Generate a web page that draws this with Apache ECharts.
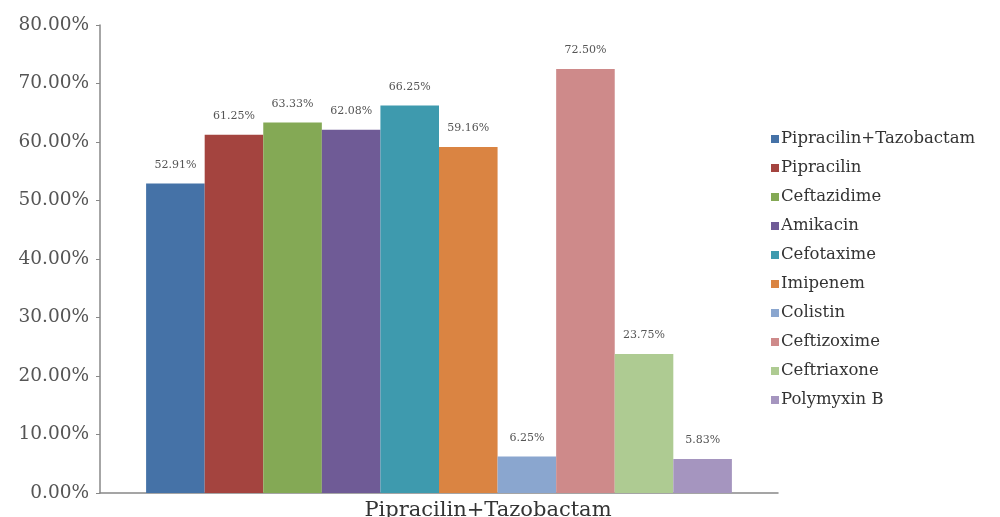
<!DOCTYPE html>
<html><head><meta charset="utf-8">
<script src="https://cdn.jsdelivr.net/npm/echarts@6/dist/echarts.min.js"></script>
<style>html,body{margin:0;padding:0;background:#fff}#c{width:1000px;height:517px}</style>
</head><body><div id="c"></div>
<script>
const categories = ['Pipracilin+Tazobactam'];
const seriesNames = ['Pipracilin+Tazobactam','Pipracilin','Ceftazidime','Amikacin','Cefotaxime','Imipenem','Colistin','Ceftizoxime','Ceftriaxone','Polymyxin B'];
const values = [52.91, 61.25, 63.33, 62.08, 66.25, 59.16, 6.25, 72.50, 23.75, 5.83];
const colors = ['#4572A7','#A4443F','#84A955','#6F5B96','#3E9AAE','#DA8442','#8AA6CF','#CE8A8A','#AECB92','#A595BF'];
const yTicks = [0,10,20,30,40,50,60,70,80];

const font = 'DejaVu Serif, Liberation Serif, serif';
const chart = echarts.init(document.getElementById('c'));
chart.setOption({
  animation: false,
  grid: {left: 100, right: 222, top: 25, bottom: 24, outerBoundsMode: 'none', containLabel: false},
  legend: {
    orient: 'vertical', left: 766, top: 125, itemGap: 11,
    itemWidth: 8, itemHeight: 8, icon: 'rect',
    textStyle: {fontFamily: font, fontSize: 16.5, color: '#333', padding: [0,0,0,-3], lineHeight: 18},
    data: seriesNames
  },
  xAxis: {
    type: 'category', data: categories,
    axisLine: {lineStyle: {color: '#888', width: 1.5}},
    axisTick: {show: false},
    axisLabel: {fontFamily: font, fontSize: 21, color: '#333', margin: 7, padding: [0,0,0,98]}
  },
  yAxis: {
    type: 'value', min: yTicks[0], max: yTicks[yTicks.length-1], interval: 10,
    splitLine: {show: false},
    axisLine: {show: true, lineStyle: {color: '#888', width: 1.5}},
    axisTick: {show: true, length: 4, lineStyle: {color: '#888'}},
    axisLabel: {fontFamily: font, fontSize: 18.5, color: '#555', margin: 11,
      formatter: v => v.toFixed(2) + '%'}
  },
  series: seriesNames.map((n, i) => ({
    name: n, type: 'bar', data: [values[i]],
    barGap: 0, barCategoryGap: '13.6%',
    itemStyle: {color: colors[i]},
    label: {show: true, position: 'top', distance: 13, fontFamily: font, fontSize: 11, color: '#555',
      formatter: p => p.value.toFixed(2) + '%'}
  }))
});
</script></body></html>
